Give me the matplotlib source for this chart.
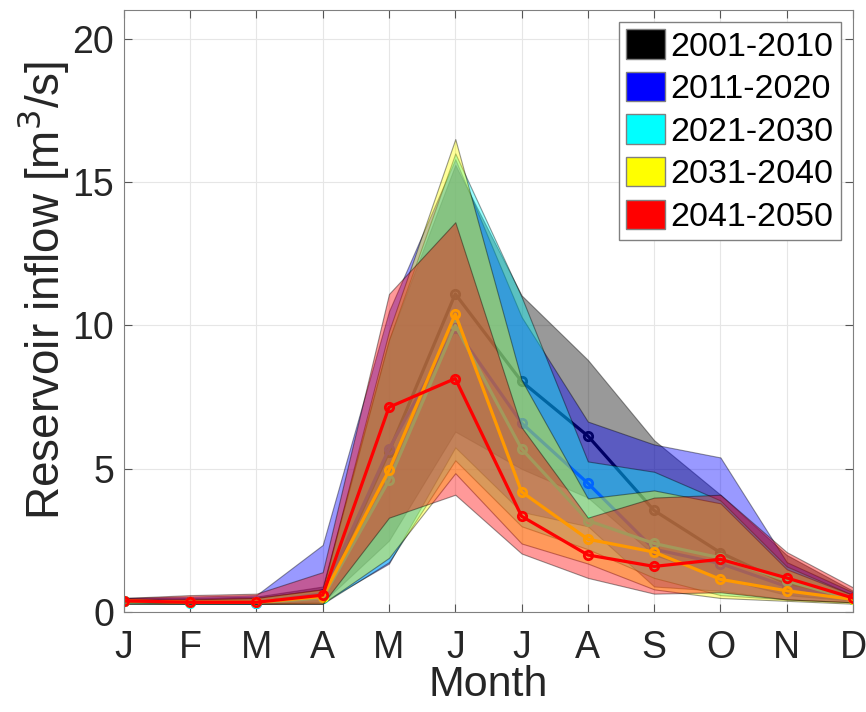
import numpy as np
import matplotlib
matplotlib.use('Agg')
from matplotlib import pyplot as plt
from matplotlib.patches import Patch

plt.rcParams['font.family'] = ['Liberation Sans', 'DejaVu Sans']

months = ['J', 'F', 'M', 'A', 'M', 'J', 'J', 'A', 'S', 'O', 'N', 'D']
decades = ['2001-2010', '2011-2020', '2021-2030', '2031-2040', '2041-2050']
colors = ['#000000', '#0000FF', '#00FFFF', '#FFFF00', '#FF0000']

# 2001-2010
lo1 = [0.35, 0.33, 0.33, 0.35, 2.5, 6.3, 5.0, 4.0, 2.0, 1.2, 0.6, 0.4]
hi1 = [0.50, 0.50, 0.55, 0.90, 9.5, 15.6, 11.05, 8.8, 6.0, 4.1, 2.0, 0.75]
mu1 = [0.40, 0.36, 0.36, 0.55, 5.6, 11.1, 8.05, 6.15, 3.55, 2.08, 1.0, 0.5]
# 2011-2020
lo2 = [0.30, 0.30, 0.30, 0.35, 1.7, 5.75, 3.5, 3.0, 0.9, 0.75, 0.45, 0.35]
hi2 = [0.50, 0.55, 0.60, 2.35, 10.5, 15.8, 10.3, 6.65, 5.85, 5.4, 1.75, 0.7]
mu2 = [0.38, 0.35, 0.33, 0.65, 5.7, 9.9, 6.6, 4.5, 2.2, 1.7, 0.9, 0.45]
# 2021-2030
lo3 = [0.30, 0.30, 0.30, 0.30, 1.75, 5.3, 3.0, 2.2, 1.2, 0.6, 0.45, 0.35]
hi3 = [0.45, 0.45, 0.50, 0.80, 9.5, 16.0, 11.0, 5.26, 4.9, 3.9, 1.6, 0.6]
mu3 = [0.38, 0.33, 0.33, 0.50, 4.6, 10.0, 5.7, 3.2, 2.4, 1.9, 1.1, 0.45]
# 2031-2040
lo4 = [0.30, 0.30, 0.30, 0.30, 1.9, 4.85, 2.4, 1.7, 0.8, 0.5, 0.4, 0.3]
hi4 = [0.45, 0.45, 0.50, 0.80, 9.8, 16.5, 8.1, 3.97, 4.25, 3.8, 1.5, 0.6]
mu4 = [0.40, 0.35, 0.35, 0.55, 4.95, 10.4, 4.2, 2.55, 2.1, 1.15, 0.75, 0.45]
# 2041-2050
lo5 = [0.35, 0.30, 0.30, 0.30, 3.3, 4.1, 2.05, 1.2, 0.65, 0.7, 0.45, 0.35]
hi5 = [0.50, 0.60, 0.65, 1.40, 11.1, 13.6, 6.45, 3.3, 4.0, 4.1, 2.1, 0.87]
mu5 = [0.40, 0.35, 0.35, 0.60, 7.15, 8.15, 3.35, 2.0, 1.6, 1.85, 1.2, 0.5]

lows = [lo1, lo2, lo3, lo4, lo5]
highs = [hi1, hi2, hi3, hi4, hi5]
means = [mu1, mu2, mu3, mu4, mu5]

x = np.arange(len(months))

fig = plt.figure(figsize=(8.66, 7.12), dpi=100)
ax = fig.add_axes([0.143, 0.140, 0.842, 0.846])

for lo, hi, mu, c in zip(lows, highs, means, colors):
    ax.fill_between(x, lo, hi, facecolor=c, edgecolor=(0, 0, 0, 0.45), linewidth=0.8,
                    alpha=0.4, zorder=2)
    ax.plot(x, mu, color=c, linewidth=2.3, marker='o', markersize=6,
            markerfacecolor='none', markeredgewidth=2, zorder=2)

ax.set_xlim(0, 11)
ax.set_ylim(0, 21)
ax.set_xticks(x)
ax.set_xticklabels(months)
ax.set_yticks([0, 5, 10, 15, 20])
ax.tick_params(labelsize=27, labelcolor='#262626', direction='in', length=6,
               color='#555555', top=True, right=True, pad=7)
ax.tick_params(axis='x', pad=13)
ax.grid(True, color='#e6e6e6', linewidth=0.8, zorder=0)
ax.set_axisbelow(True)
for s in ax.spines.values():
    s.set_color('#808080')
ax.set_xlabel('Month', fontsize=31, color='#262626', labelpad=-1)
ax.set_ylabel('Reservoir inflow [m$^3$/s]', fontsize=33, color='#262626')
ax.yaxis.set_label_coords(-0.072, 0.535)

handles = [Patch(facecolor=c, edgecolor='#808080') for c in colors]
leg = ax.legend(handles, decades, loc='upper right', fontsize=24.5, fancybox=False,
                edgecolor='#808080', framealpha=1, handlelength=1.15, handleheight=0.95,
                handletextpad=0.15, labelspacing=0.27, borderaxespad=0.35, borderpad=0.22)
leg.get_frame().set_linewidth(1)

fig.savefig('out.png', dpi=100)
